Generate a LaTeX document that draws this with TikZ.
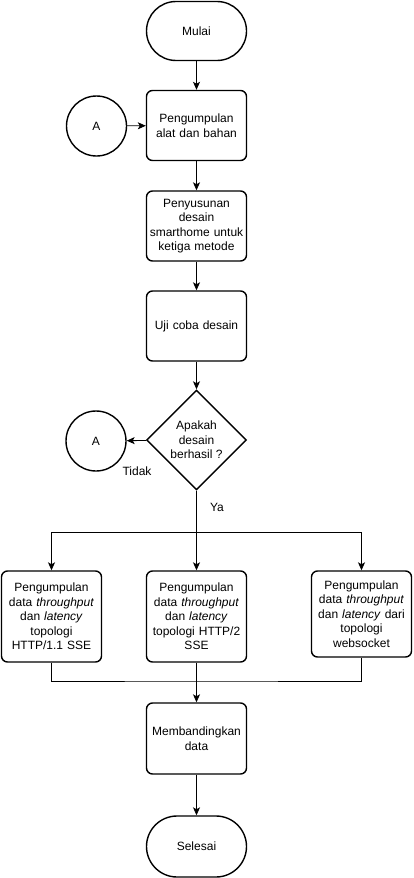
\documentclass[tikz,border=0pt]{standalone}
\usepackage{fontspec}
\setmainfont{Liberation Sans}
\usetikzlibrary{shapes.geometric,arrows.meta}
\begin{document}
\begin{tikzpicture}[x=1pt,y=-1pt,
  every node/.style={font=\fontsize{12}{14.5}\selectfont},
  proc/.style={draw,line width=1.4pt,rounded corners=6pt,minimum width=100pt,text width=96pt,align=center,inner sep=1pt},
  term/.style={draw,line width=1.4pt,rounded corners=29.5pt,minimum width=100pt,minimum height=59pt,align=center},
  conn/.style={draw,line width=1.4pt,circle,minimum size=60pt,inner sep=0pt},
  dec/.style={draw,line width=1.4pt,diamond,aspect=1,inner sep=0pt,minimum size=100pt,align=center},
  line/.style={line width=0.8pt},
  arr/.style={line width=0.8pt,-{Stealth[length=8pt,width=7pt,inset=2pt]}}]
\useasboundingbox (0,0) rectangle (413,878);
\node[term] (start) at (196.5,31) {Mulai};
\node[proc,minimum height=70pt] (p1) at (196.5,125.5) {Pengumpulan\\alat dan bahan};
\node[conn] (a1) at (96.5,126) {A};
\node[proc,minimum height=70pt] (p2) at (196.5,226) {Penyusunan\\desain\\smarthome untuk\\ketiga metode};
\node[proc,minimum height=70pt] (p3) at (196.5,326) {Uji coba desain};
\node[dec] (d) at (196.5,440) {Apakah\\desain\\berhasil ?};
\node[conn] (a2) at (96,441) {A};
\node (tidak) at (137,471) {Tidak};
\node (ya) at (217,507) {Ya};
\node[proc,minimum height=91pt] (b1) at (51.5,616.5) {Pengumpulan\\data \textit{throughput}\\dan \textit{latency}\\topologi\\HTTP/1.1 SSE};
\node[proc,minimum height=91pt] (b2) at (196.5,616.5) {Pengumpulan\\data \textit{throughput}\\dan \textit{latency}\\topologi HTTP/2\\SSE};
\node[proc,minimum height=86pt] (b3) at (361.5,614) {Pengumpulan\\data \textit{throughput}\\dan \textit{latency} dari\\topologi\\websocket};
\node[proc,minimum height=71pt] (p4) at (196.5,738.5) {Membandingkan\\data};
\node[term,minimum height=61pt,rounded corners=30.5pt] (end) at (196.5,846.5) {Selesai};
\coordinate (s) at (196.5,532);
\coordinate (m) at (196.5,681);
\draw[arr] (start) -- (p1);
\draw[arr] (a1) -- (p1);
\draw[arr] (p1) -- (p2);
\draw[arr] (p2) -- (p3);
\draw[arr] (p3) -- (d);
\draw[arr] (d) -- (a2);
\draw[arr] (d) -- (b2);
\draw[arr] (s) -| (b1.north);
\draw[arr] (s) -| (b3.north);
\draw[line] (b1.south) |- (m) -| (b3.south);
\draw[arr] (b2) -- (p4);
\draw[arr] (p4) -- (end);
\end{tikzpicture}
\end{document}
